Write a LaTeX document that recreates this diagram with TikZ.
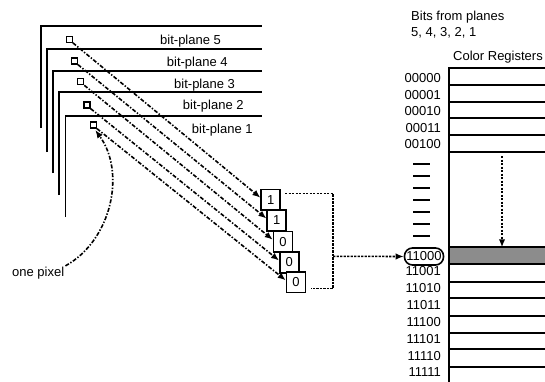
\documentclass[tikz,border=0pt]{standalone}
\usepackage{fontspec}
\setmainfont{Liberation Sans}
\usetikzlibrary{arrows.meta,calc}
\begin{document}
\begin{tikzpicture}[x=1pt,y=-1pt,
  txt/.style={font=\fontsize{13}{15}\selectfont, inner sep=0pt},
  plane/.style={line width=1.7pt},
  pix/.style={draw, line width=1.3pt, minimum size=6pt, inner sep=0pt},
  bitbox/.style={draw, fill=white, line width=1.6pt, minimum width=19pt, minimum height=20.5pt, inner sep=0pt, font=\fontsize{13}{15}\selectfont},
  tip/.style={-{Latex[length=8pt,width=6.5pt]}},
  dd/.style={line width=1.6pt, dash pattern=on 4pt off 1.7pt on 1.4pt off 1.7pt, tip},
  dots/.style={line width=1.6pt, dash pattern=on 2.3pt off 1.2pt},
  reg/.style={line width=1.7pt},
]
\useasboundingbox (0,0) rectangle (545,382);
\clip (0,0) rectangle (545,382);

% bit-planes (L shapes)
\draw[plane] (41,128) -- (41,25.7) -- (262,25.7);
\draw[plane] (47.3,152) -- (47.3,49) -- (262,49);
\draw[plane] (53.3,173) -- (53.3,70.7) -- (262,70.7);
\draw[plane] (59.3,195) -- (59.3,92.3) -- (262,92.3);
\draw[plane] (65.5,217) -- (65.5,115.7) -- (262,115.7);

\node[txt, anchor=base west] (l5) at (160,44.3) {bit-plane 5};
\node[txt, anchor=base west] (l4) at (166.7,66.7) {bit-plane 4};
\node[txt, anchor=base west] (l3) at (174,88.3) {bit-plane 3};
\node[txt, anchor=base west] (l2) at (182.7,110) {bit-plane 2};
\node[txt, anchor=base west] (l1) at (191.7,133.3) {bit-plane 1};

% pixels
\node[pix] (p5) at (69.2,39.2) {};
\node[pix] (p4) at (74.3,61) {};
\node[pix] (p3) at (80.7,81.7) {};
\node[pix] (p2) at (87,105) {};
\node[pix] (p1) at (93.3,125) {};

% bit boxes
\node[bitbox] (b1) at (270.7,199.7) {1};
\node[bitbox] (b2) at (276.7,220.5) {1};
\node[bitbox] (b3) at (283,241.7) {0};
\node[bitbox] (b4) at (289.3,262.5) {0};
\node[bitbox] (b5) at (296,282.3) {0};

\foreach \p/\b in {p5/b1,p4/b2,p3/b3,p2/b4,p1/b5}
  \draw[dd] (\p.south east) -- ([yshift=2pt]\b.west);

% one pixel
\node[txt, anchor=base west] (op) at (12,276.5) {one pixel};
\draw[dd] ([xshift=1pt,yshift=1pt]op.north east) .. controls (112,240) and (126,172) .. ([xshift=2pt,yshift=-1.5pt]p1.south);

% bracket
\coordinate (c1) at (285,193.3);
\coordinate (c2) at (333,193.3);
\coordinate (c3) at (333,288.3);
\coordinate (c4) at (311,288.3);
\coordinate (cm) at (333,256.3);
\draw[dots] (c1) -- (c2) -- (c3) -- (c4);

% registers
\node[txt, anchor=base west] (bfp) at (411,20.5) {Bits from planes};
\node[txt, anchor=base west] (bnum) at (411,37) {5, 4, 3, 2, 1};
\node[txt, anchor=base west] (creg) at (453,60.5) {Color Registers};

\draw[reg] (449,395) -- (449,68.3) -- (560,68.3);
\foreach \y in {85,101.7,118.3,135} \draw[reg] (449,\y) -- (560,\y);
\draw[line width=2.8pt] (449,152) -- (560,152);
\foreach \y in {281.7,298.3,315.7,332.7,349.3,366.7} \draw[reg] (449,\y) -- (560,\y);
\draw[reg, fill=black!45] (449,247.3) rectangle (560,264);

\foreach \y in {164,176,188,200,212,224,236} \draw[line width=1.8pt] (413,\y) -- (430,\y);

\foreach \t/\y in {00000/78.3,00001/95,00010/111,00011/128,00100/144,
  11001/271.5,11010/288,11011/305,11100/322,11101/339,11110/356,11111/372}
  \node[txt, anchor=east] at (441,\y) {\t};

\node[draw, line width=1.6pt, rounded corners=8pt, minimum width=39pt, minimum height=17pt, inner sep=0pt, font=\fontsize{13}{15}\selectfont] (sel) at (424,256.5) {11000};
\draw[dots, tip] (cm) -- (sel.west);

\coordinate (vtop) at (502,156);
\coordinate (seltop) at (502,247.3);
\draw[dots, tip] (vtop) -- (seltop);
\end{tikzpicture}
\end{document}
